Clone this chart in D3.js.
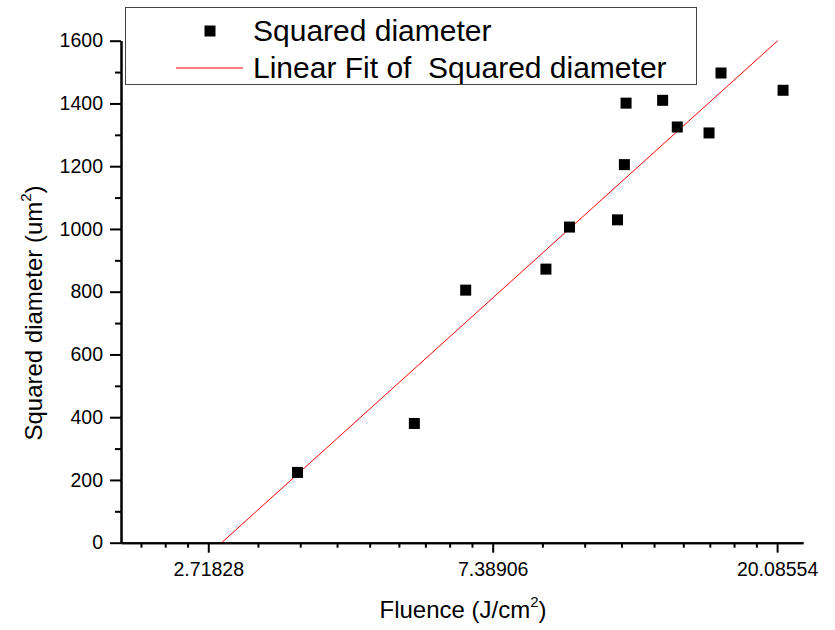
<!DOCTYPE html>
<html>
<head>
<meta charset="utf-8">
<script src="https://cdn.jsdelivr.net/npm/d3@7"></script>
<style>
  body { margin: 0; background: #fff; }
  svg { font-family: "Liberation Sans", Arial, sans-serif; }
</style>
</head>
<body>
<div id="chart"></div>
<script>
// data
var fluence = [3.72, 5.61, 6.72, 8.91, 9.68, 11.46, 11.74, 11.81, 13.43, 14.14, 15.81, 16.49, 20.51];
var sqDiameter = [224, 380, 805, 872, 1006, 1029, 1205, 1401, 1410, 1325, 1306, 1497, 1442];

// fitted line end points
var fitX = [2.849, 20.13];
var fitY = [0, 1600];

var xTickValues = [Math.E, Math.E * Math.E, Math.E * Math.E * Math.E];
var xTickLabels = ["2.71828", "7.38906", "20.08554"];
var yTickValues = [0, 200, 400, 600, 800, 1000, 1200, 1400, 1600];

// dimensions
var W = 835, H = 630;
var margin = {top: 40.7, right: 32, bottom: 87.3, left: 121},
    width = W - margin.left - margin.right,
    height = H - margin.top - margin.bottom;

var svg = d3.select("#chart").append("svg")
    .attr("width", W)
    .attr("height", H);

var g = svg.append("g")
    .attr("transform", "translate(" + margin.left + "," + margin.top + ")");

// scales
var x = d3.scaleLog().base(Math.E)
    .domain([2, 22])
    .range([0, width]);
var y = d3.scaleLinear()
    .domain([0, 1600])
    .range([height, 0]);

// minor ticks on x: 8 evenly spaced between each power of e
var xMinor = [];
for (var n = 0; n < 4; n++) {
  var lo = Math.pow(Math.E, n), hi = Math.pow(Math.E, n + 1);
  for (var k = 1; k < 9; k++) {
    var v = lo + k * (hi - lo) / 9;
    if (v > 2 && v < 22) xMinor.push(v);
  }
}
var yMinor = d3.range(100, 1600, 200);

// minor tick axes
g.append("g")
    .attr("class", "minor")
    .attr("transform", "translate(0," + height + ")")
    .call(d3.axisBottom(x).tickValues(xMinor).tickFormat("").tickSize(5).tickSizeOuter(0));
g.append("g")
    .attr("class", "minor")
    .call(d3.axisLeft(y).tickValues(yMinor).tickFormat("").tickSize(6).tickSizeOuter(0));

// major axes
var xAxis = g.append("g")
    .attr("transform", "translate(0," + height + ")")
    .call(d3.axisBottom(x)
      .tickValues(xTickValues)
      .tickFormat(function(d, i) { return xTickLabels[i]; })
      .tickSize(10)
      .tickSizeOuter(0));
xAxis.selectAll("text")
    .attr("y", 19)
    .attr("font-size", "19.5px");

var yAxis = g.append("g")
    .call(d3.axisLeft(y)
      .tickValues(yTickValues)
      .tickFormat(d3.format("d"))
      .tickSize(11)
      .tickSizeOuter(0));
yAxis.selectAll("text")
    .attr("x", -18)
    .attr("font-size", "19.5px");

g.selectAll(".domain, .tick line")
    .attr("stroke", "#000")
    .attr("stroke-width", 2);
g.selectAll(".tick text").attr("fill", "#000").attr("font-family", "Liberation Sans, Arial, sans-serif");

// fit line
g.append("path")
    .datum(d3.zip(fitX, fitY))
    .attr("fill", "none")
    .attr("stroke", "#ff0000")
    .attr("stroke-width", 1)
    .attr("d", d3.line()
      .x(function(d) { return x(d[0]); })
      .y(function(d) { return y(d[1]); }));

// points
var sq = 11;
g.selectAll(".pt")
    .data(d3.zip(fluence, sqDiameter))
  .enter().append("rect")
    .attr("class", "pt")
    .attr("x", function(d) { return x(d[0]) - sq / 2; })
    .attr("y", function(d) { return y(d[1]) - sq / 2; })
    .attr("width", sq)
    .attr("height", sq)
    .attr("fill", "#000");

// axis titles
var xTitle = svg.append("text")
    .attr("x", 463)
    .attr("y", 618)
    .attr("text-anchor", "middle")
    .attr("font-size", "24px");
xTitle.append("tspan").text("Fluence (J/cm");
xTitle.append("tspan").attr("font-size", "15px").attr("dy", -11).text("2");
xTitle.append("tspan").attr("dy", 11).text(")");

var yTitle = svg.append("text")
    .attr("transform", "translate(42,313) rotate(-90)")
    .attr("text-anchor", "middle")
    .attr("font-size", "24px");
yTitle.append("tspan").text("Squared diameter (um");
yTitle.append("tspan").attr("font-size", "15px").attr("dy", -11).text("2");
yTitle.append("tspan").attr("dy", 11).text(")");

// legend
var legend = svg.append("g");
legend.append("rect")
    .attr("x", 125.5)
    .attr("y", 7.5)
    .attr("width", 571)
    .attr("height", 77)
    .attr("fill", "#fff")
    .attr("stroke", "#444")
    .attr("stroke-width", 1);
legend.append("rect")
    .attr("x", 210 - sq / 2)
    .attr("y", 31 - sq / 2)
    .attr("width", sq)
    .attr("height", sq)
    .attr("fill", "#000");
legend.append("line")
    .attr("x1", 176).attr("x2", 243)
    .attr("y1", 68).attr("y2", 68)
    .attr("stroke", "#ff0000")
    .attr("stroke-width", 1);
legend.append("text")
    .attr("x", 253)
    .attr("y", 40.5)
    .attr("font-size", "30px")
    .text("Squared diameter");
legend.append("text")
    .attr("x", 253)
    .attr("y", 77.5)
    .attr("font-size", "30px")
    .style("white-space", "pre")
    .text("Linear Fit of  Squared diameter");
</script>
</body>
</html>
